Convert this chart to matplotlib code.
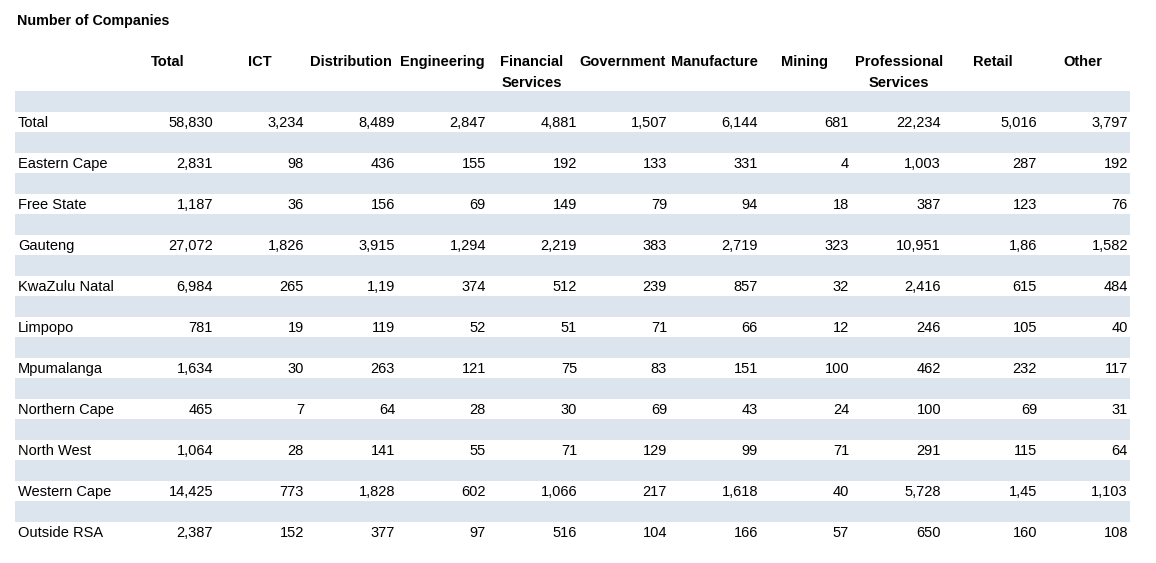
import matplotlib
matplotlib.use('agg')
import matplotlib.pyplot as plt
from matplotlib.patches import Rectangle

plt.rcParams['font.family'] = ['Liberation Sans', 'DejaVu Sans']

title = 'Number of Companies'
columns = ['Total', 'ICT', 'Distribution', 'Engineering', 'Financial\nServices',
           'Government', 'Manufacture', 'Mining', 'Professional\nServices',
           'Retail', 'Other']
regions = ['Total', 'Eastern Cape', 'Free State', 'Gauteng', 'KwaZulu Natal',
           'Limpopo', 'Mpumalanga', 'Northern Cape', 'North West',
           'Western Cape', 'Outside RSA']
values = [
    ['58,830', '3,234', '8,489', '2,847', '4,881', '1,507', '6,144', '681', '22,234', '5,016', '3,797'],
    ['2,831', '98', '436', '155', '192', '133', '331', '4', '1,003', '287', '192'],
    ['1,187', '36', '156', '69', '149', '79', '94', '18', '387', '123', '76'],
    ['27,072', '1,826', '3,915', '1,294', '2,219', '383', '2,719', '323', '10,951', '1,86', '1,582'],
    ['6,984', '265', '1,19', '374', '512', '239', '857', '32', '2,416', '615', '484'],
    ['781', '19', '119', '52', '51', '71', '66', '12', '246', '105', '40'],
    ['1,634', '30', '263', '121', '75', '83', '151', '100', '462', '232', '117'],
    ['465', '7', '64', '28', '30', '69', '43', '24', '100', '69', '31'],
    ['1,064', '28', '141', '55', '71', '129', '99', '71', '291', '115', '64'],
    ['14,425', '773', '1,828', '602', '1,066', '217', '1,618', '40', '5,728', '1,45', '1,103'],
    ['2,387', '152', '377', '97', '516', '104', '166', '57', '650', '160', '108'],
]

# layout (pixels)
W, H = 1156, 563
col_right = [213, 304, 395, 486, 577, 667, 758, 849, 941, 1037, 1128]
head_x = [168, 260, 351, 442, 532, 623, 714, 805, 899, 993, 1083]
left, right = 15, 1130
row0, row_step = 123, 41
band_h = 21
band = '#dce4ee'
fs = 10.5

fig = plt.figure(figsize=(W / 100, H / 100), dpi=100)
ax = fig.add_axes([0, 0, 1, 1])
ax.set_xlim(0, W)
ax.set_ylim(H, 0)
ax.axis('off')

ax.text(17, 21, title, fontsize=fs - 0.2, fontweight='bold', va='center', ha='left')

# shaded separator bands
for i in range(len(regions)):
    yc = row0 - 1 - row_step / 2 + i * row_step
    ax.add_patch(Rectangle((left, yc - band_h / 2), right - left, band_h,
                           facecolor=band, edgecolor='none'))

# column headers
for xc, c in zip(head_x, columns):
    for k, line in enumerate(c.split('\n')):
        ax.text(xc, 62 + 21 * k, line, fontsize=fs, fontweight='bold',
                ha='center', va='center')

# data rows
for i, (r, vals) in enumerate(zip(regions, values)):
    y = row0 + i * row_step
    ax.text(18, y, r, fontsize=fs, ha='left', va='center')
    for xr, v in zip(col_right, vals):
        ax.text(xr, y, v, fontsize=fs, ha='right', va='center')

fig.savefig('out.png', dpi=100)
